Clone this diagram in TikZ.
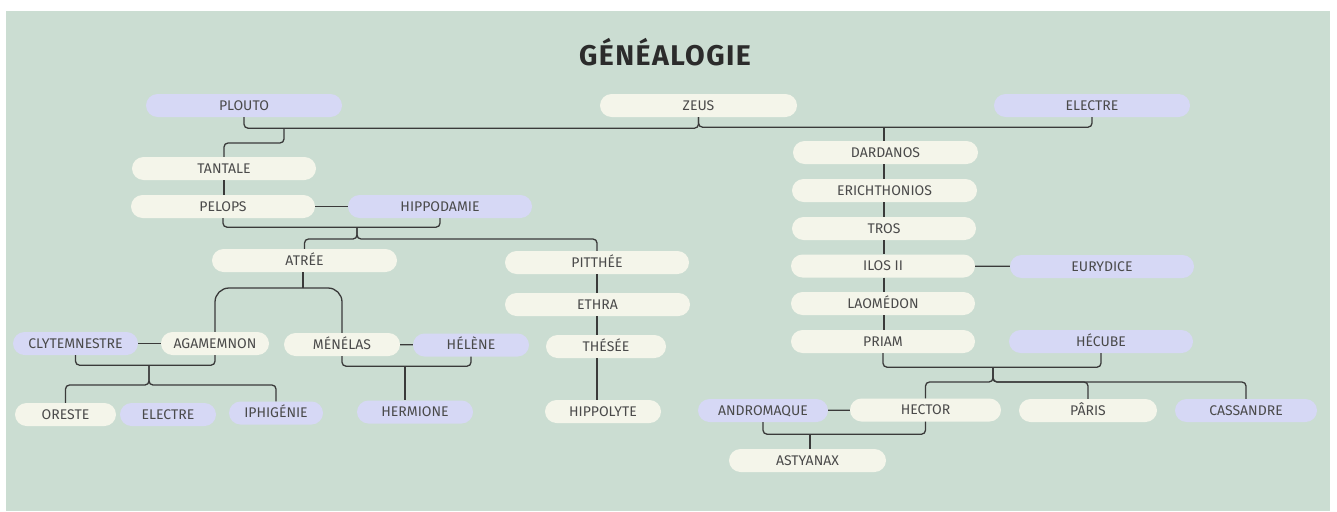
\documentclass[tikz,border=0pt]{standalone}
\usepackage{fontspec}
\setmainfont{Fira Sans}
\newfontfamily\titlefont[LetterSpace=5]{Fira Sans}
\definecolor{panel}{HTML}{CBDDD2}
\definecolor{cream}{HTML}{F4F5EA}
\definecolor{lilac}{HTML}{D6D8F5}
\definecolor{ink}{HTML}{4A4A4A}
\definecolor{titleink}{HTML}{2B2B2B}
\definecolor{linegray}{HTML}{3A3A3A}
\tikzset{
  person/.style={rounded corners=11.5pt, minimum height=23pt, inner sep=0pt,
    text height=9.5pt, text depth=0pt, text=ink, fill=cream,
    font=\fontsize{14}{16}\selectfont},
  spouse/.style={person, fill=lilac},
  link/.style={draw=linegray, line width=1.3pt, rounded corners=4pt},
  bigbend/.style={link, rounded corners=14pt}
}

\begin{document}
\begin{tikzpicture}[x=1pt,y=-1pt]
\useasboundingbox (0,0) rectangle (1337,511);
\fill[white] (0,0) rectangle (1337,511);
\fill[panel] (6,11) rectangle (1330,511);
\node[text=titleink, font=\titlefont\bfseries\fontsize{28.5}{32}\selectfont] (titre) at (665,52) {GÉNÉALOGIE};

% first row
\node[spouse, minimum width=196] (plouto) at (244,105.5) {PLOUTO};
\node[person, minimum width=197] (zeus) at (698.5,105.5) {ZEUS};
\node[spouse, minimum width=196] (electre) at (1092,105.5) {ELECTRE};

% Tantalides
\node[person, minimum width=184] (tantale) at (224,168.5) {TANTALE};
\node[person, minimum width=184] (pelops) at (223,206.5) {PELOPS};
\node[spouse, minimum width=184] (hippodamie) at (440,206.5) {HIPPODAMIE};
\node[person, minimum width=185] (atree) at (304.5,260.5) {ATRÉE};
\node[person, minimum width=184] (pitthee) at (597,262.5) {PITTHÉE};
\node[person, minimum width=185] (ethra) at (597.5,304.5) {ETHRA};
\node[person, minimum width=120] (thesee) at (606,346.5) {THÉSÉE};
\node[person, minimum width=116] (hippolyte) at (603,411.5) {HIPPOLYTE};
\node[spouse, minimum width=125] (clytemnestre) at (75.5,343.5) {CLYTEMNESTRE};
\node[person, minimum width=108] (agamemnon) at (215,343.5) {AGAMEMNON};
\node[person, minimum width=116] (menelas) at (342,344.5) {MÉNÉLAS};
\node[spouse, minimum width=116] (helene) at (471,345) {HÉLÈNE};
\node[person, minimum width=101] (oreste) at (65.5,414.5) {ORESTE};
\node[spouse, minimum width=96] (electreb) at (168,414.5) {ELECTRE};
\node[spouse, minimum width=94] (iphigenie) at (276,413) {IPHIGÉNIE};
\node[spouse, minimum width=116] (hermione) at (415,412) {HERMIONE};

% Dardanides
\node[person, minimum width=185] (dardanos) at (885.5,152.5) {DARDANOS};
\node[person, minimum width=185] (erichthonios) at (884.5,190.5) {ERICHTHONIOS};
\node[person, minimum width=184] (tros) at (884,228.5) {TROS};
\node[person, minimum width=184] (ilos) at (883,266) {ILOS II};
\node[spouse, minimum width=184] (eurydice) at (1102,266.5) {EURYDICE};
\node[person, minimum width=184] (laomedon) at (883,303.5) {LAOMÉDON};
\node[person, minimum width=184] (priam) at (883,341.5) {PRIAM};
\node[spouse, minimum width=184] (hecube) at (1101,341.5) {HÉCUBE};
\node[spouse, minimum width=130] (andromaque) at (763,410.5) {ANDROMAQUE};
\node[person, minimum width=151] (hector) at (925.5,410) {HECTOR};
\node[person, minimum width=138] (paris) at (1088,410.5) {PÂRIS};
\node[spouse, minimum width=142] (cassandre) at (1246,410.5) {CASSANDRE};
\node[person, minimum width=157] (astyanax) at (807.5,460.5) {ASTYANAX};

% junctions
\coordinate (pz) at (284,128);
\coordinate (ze) at (884,127);
\coordinate (ph) at (357,227);
\coordinate (at) at (303,288);
\coordinate (ca) at (149,365);
\coordinate (mh) at (405,366);
\coordinate (pc) at (993,367);
\coordinate (ah) at (810,434);

% connectors
\draw[link] (plouto.south) -- ++(0,11) -| (zeus.south);
\draw[link] (electre.south) -- ++(0,10) -| (zeus.south);
\draw[link] (pz) -- ++(0,15) -| (tantale.north);
\draw[link] (tantale.south) -- (tantale.south |- pelops.north);
\draw[link] (pelops) -- (hippodamie);
\draw[link] (pelops.south) -- ++(0,9) -| (hippodamie.south);
\draw[link] (ph) -- ++(0,12) -| (atree.north);
\draw[link] (ph) -- ++(0,12) -| (pitthee.north);
\draw[link] (pitthee.south) -- (pitthee.south |- ethra.north);
\draw[link] (pitthee.south |- ethra.south) -- (pitthee.south |- thesee.north);
\draw[link] (pitthee.south |- thesee.south) -- (pitthee.south |- hippolyte.north);
\draw[link] (atree.south -| at) -- (at);
\draw[bigbend] (at) -| (agamemnon.north);
\draw[bigbend] (at) -| (menelas.north);
\draw[link] (clytemnestre) -- (agamemnon);
\draw[link] (clytemnestre.south) -- ++(0,10) -| (agamemnon.south);
\draw[link] (ca) -- ++(0,20) -| (oreste.north);
\draw[link] (ca) -- ++(0,20) -| (iphigenie.north);
\draw[link] (menelas) -- (helene);
\draw[link] (menelas.south) -- ++(0,10) -| (helene.south);
\draw[link] (mh) -- (mh |- hermione.north);
\draw[link] (ze) -- (ze |- dardanos.north);
\draw[link] (ze |- dardanos.south) -- (ze |- erichthonios.north);
\draw[link] (ze |- erichthonios.south) -- (ze |- tros.north);
\draw[link] (ze |- tros.south) -- (ze |- ilos.north);
\draw[link] (ze |- ilos.south) -- (ze |- laomedon.north);
\draw[link] (ze |- laomedon.south) -- (ze |- priam.north);
\draw[link] (ilos) -- (eurydice);
\draw[link] (priam.south) -- ++(0,14) -| (hecube.south);
\draw[link] (pc) -- ++(0,15) -| (hector.north);
\draw[link] (pc) -- ++(0,15) -| (paris.north);
\draw[link] (pc) -- ++(0,15) -| (cassandre.north);
\draw[link] (andromaque) -- (hector);
\draw[link] (andromaque.south) -- ++(0,12) -| (hector.south);
\draw[link] (ah) -- (ah |- astyanax.north);
\end{tikzpicture}
\end{document}
